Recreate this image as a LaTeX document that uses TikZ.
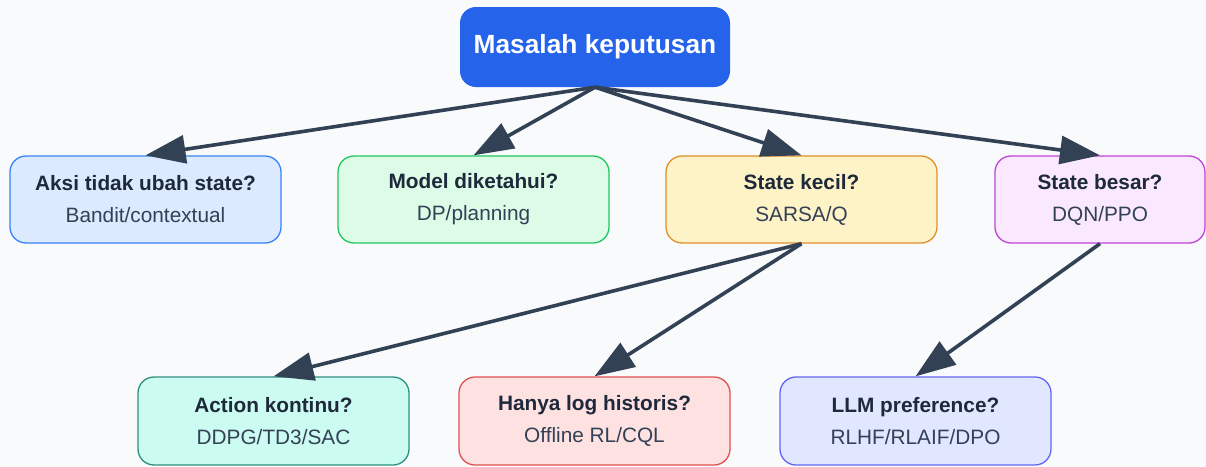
\documentclass[tikz,border=0pt]{standalone}
\usepackage{fontspec}
\setmainfont{Liberation Sans}
\usetikzlibrary{positioning,arrows.meta}

\definecolor{bgcol}{HTML}{F8FAFC}
\definecolor{linkcol}{HTML}{334155}
\definecolor{headcol}{HTML}{1E293B}
\definecolor{subcol}{HTML}{334155}
\definecolor{topfill}{HTML}{2563EB}
\definecolor{bluefill}{HTML}{DBEAFE}   \definecolor{blueline}{HTML}{3B82F6}
\definecolor{greenfill}{HTML}{DCFCE7}  \definecolor{greenline}{HTML}{22C55E}
\definecolor{amberfill}{HTML}{FEF3C7}  \definecolor{amberline}{HTML}{E0902A}
\definecolor{pinkfill}{HTML}{FAE8FF}   \definecolor{pinkline}{HTML}{C044D6}
\definecolor{tealfill}{HTML}{CCFBF1}   \definecolor{tealline}{HTML}{2F8F7F}
\definecolor{redfill}{HTML}{FEE2E2}    \definecolor{redline}{HTML}{E25050}
\definecolor{indigofill}{HTML}{E0E7FF} \definecolor{indigoline}{HTML}{6366F1}

\newcommand{\boxtext}[2]{\textbf{#1}\\{\color{subcol}#2}}

\begin{document}
\begin{tikzpicture}[x=1pt,y=-1pt,node distance=55.7pt,>={Triangle[length=40pt,width=28pt]}]
  \tikzstyle{box}=[draw,rounded corners=16pt,line width=1.3pt,minimum width=271pt,minimum height=87pt,align=center,text=headcol,font=\fontsize{20.8}{32}\selectfont]
  \tikzstyle{link}=[->,line width=3.6pt,draw=linkcol,fill=linkcol]

  \useasboundingbox (0,0) rectangle (1206,466);
  \fill[bgcol] (0,0) rectangle (1206,466);

  \node[fill=topfill,rounded corners=16pt,minimum width=270pt,minimum height=80pt,text=white,font=\fontsize{26.3}{30}\selectfont\bfseries] (top) at (595,47) {Masalah keputusan};

  \node[box,fill=bluefill,draw=blueline] (aksi) at (145.5,199.5) {\boxtext{Aksi tidak ubah state?}{Bandit/contextual}};
  \node[box,fill=greenfill,draw=greenline,right=of aksi] (model) {\boxtext{Model diketahui?}{DP/planning}};
  \node[box,fill=amberfill,draw=amberline,right=of model] (kecil) {\boxtext{State kecil?}{SARSA/Q}};
  \node[box,fill=pinkfill,draw=pinkline,minimum width=210pt,right=56.7pt of kecil] (besar) {\boxtext{State besar?}{DQN/PPO}};

  \node[box,fill=tealfill,draw=tealline,minimum height=88pt] (kontinu) at (273.5,421) {\boxtext{Action kontinu?}{DDPG/TD3/SAC}};
  \node[box,fill=redfill,draw=redline,minimum height=88pt,right=48.7pt of kontinu] (offline) {\boxtext{Hanya log historis?}{Offline RL/CQL}};
  \node[box,fill=indigofill,draw=indigoline,minimum height=88pt,right=48.7pt of offline] (llm) {\boxtext{LLM preference?}{RLHF/RLAIF/DPO}};

  \draw[link] (top.south) -- (aksi.north);
  \draw[link] (top.south) -- (model.north);
  \draw[link] (top.south) -- (kecil.north);
  \draw[link] (top.south) -- (besar.north);
  \draw[link] (kecil.south) -- (kontinu.north);
  \draw[link] (kecil.south) -- (offline.north);
  \draw[link] (besar.south) -- (llm.north);
\end{tikzpicture}
\end{document}
